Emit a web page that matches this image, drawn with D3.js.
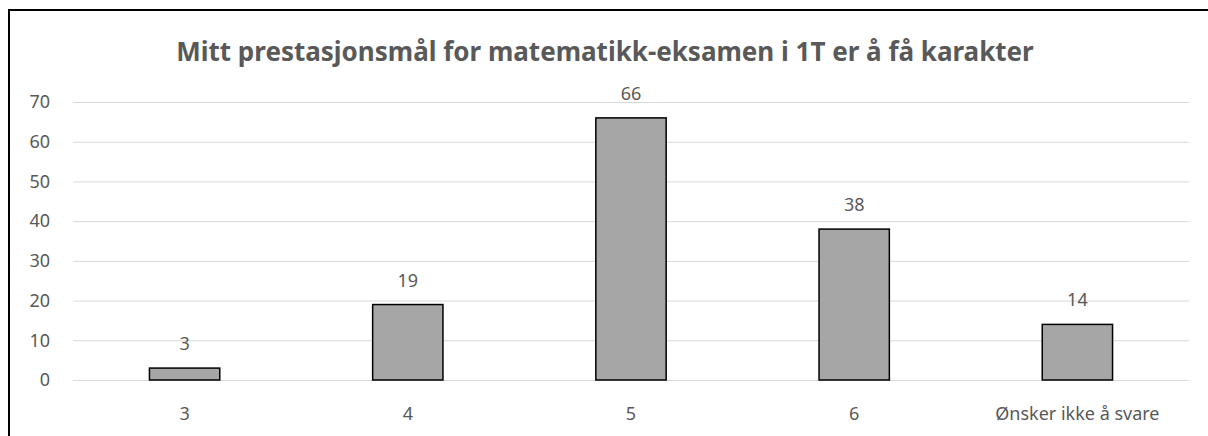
<!DOCTYPE html>
<html>
<head>
<meta charset="utf-8">
<script src="https://cdn.jsdelivr.net/npm/d3@7"></script>
<style>
  body { margin: 0; background: #fff; }
  text { font-family: "Noto Sans", "Open Sans", sans-serif; fill: #595959; }
</style>
</head>
<body>
<script>
const title = "Mitt prestasjonsmål for matematikk-eksamen i 1T er å få karakter";
const categories = ["3", "4", "5", "6", "Ønsker ikke å svare"];
const values = [3, 19, 66, 38, 14];
const yTicks = [0, 10, 20, 30, 40, 50, 60, 70];

const W = 1208, H = 436;
const margin = {top: 102, right: 19, bottom: 56, left: 73},
      width = W - margin.left - margin.right,
      height = H - margin.top - margin.bottom;

const svg = d3.select("body").append("svg")
              .attr("width", W)
              .attr("height", H);

// frame (only left and top edges are in view)
svg.append("rect")
   .attr("x", 9).attr("y", 10)
   .attr("width", W + 20).attr("height", H + 20)
   .attr("fill", "none")
   .attr("stroke", "#000")
   .attr("stroke-width", 2);

svg.append("text")
   .attr("x", 605).attr("y", 61)
   .attr("text-anchor", "middle")
   .style("font-size", "26px")
   .style("font-weight", "bold")
   .text(title);

const g = svg.append("g").attr("transform", "translate(" + margin.left + "," + margin.top + ")");

const x = d3.scaleBand().domain(categories).range([0, width]).padding(0);
const y = d3.scaleLinear().domain([0, 70]).range([height, 0]);

const yAxis = d3.axisLeft(y).tickValues(yTicks).tickSize(-width).tickPadding(23);
g.append("g").attr("class", "axis y").call(yAxis)
  .call(a => a.select(".domain").remove())
  .call(a => a.selectAll("line").attr("stroke", "#d9d9d9").attr("stroke-width", 1))
  .call(a => a.selectAll("text").style("font-size", "18px").attr("fill", "#595959"));

const xAxis = d3.axisBottom(x).tickSize(0).tickPadding(27);
g.append("g").attr("class", "axis x").attr("transform", "translate(0," + height + ")").call(xAxis)
  .call(a => a.select(".domain").remove())
  .call(a => a.selectAll("text").style("font-size", "18px").attr("fill", "#595959"));

const barW = x.bandwidth() * 0.315;

g.selectAll("rect.bar")
  .data(values)
  .enter().append("rect")
    .attr("class", "bar")
    .attr("x", (d, i) => x(categories[i]) + x.bandwidth() / 2 - barW / 2)
    .attr("y", d => y(d))
    .attr("width", barW)
    .attr("height", d => height - y(d))
    .attr("fill", "#a6a6a6")
    .attr("stroke", "#000")
    .attr("stroke-width", 1.5);

g.selectAll("text.lbl")
  .data(values)
  .enter().append("text")
    .attr("class", "lbl")
    .attr("x", (d, i) => x(categories[i]) + x.bandwidth() / 2)
    .attr("y", d => y(d) - 18)
    .attr("text-anchor", "middle")
    .style("font-size", "18px")
    .text(d => d);
</script>
</body>
</html>
